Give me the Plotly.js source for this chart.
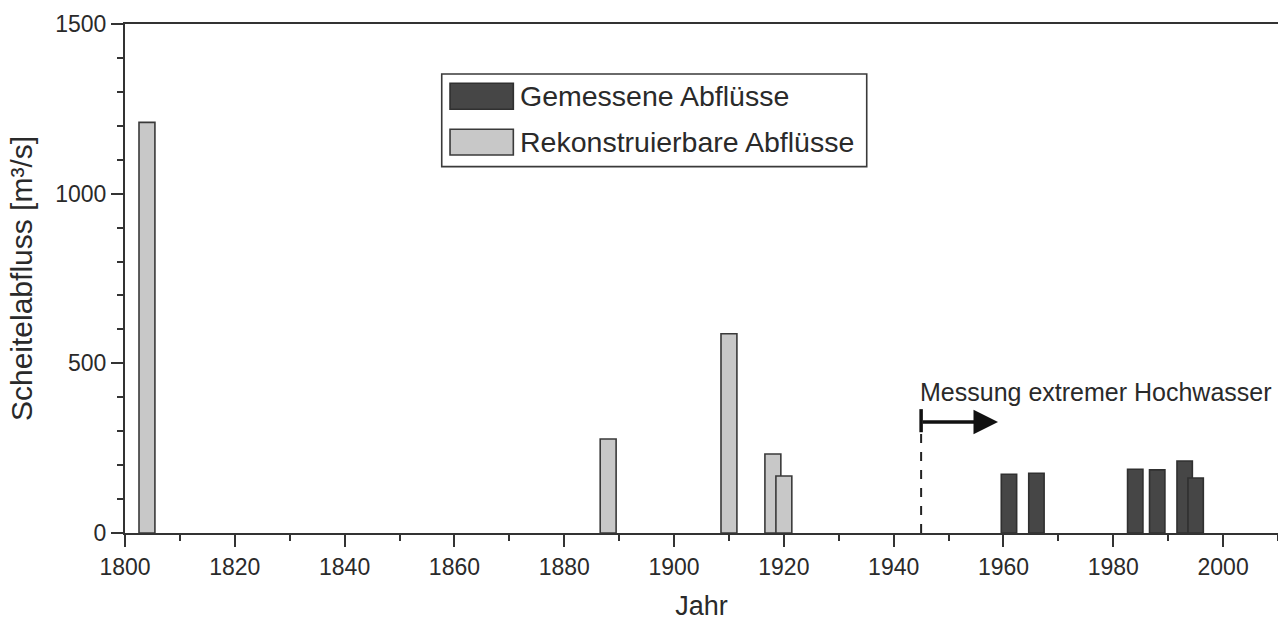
<!DOCTYPE html>
<html>
<head>
<meta charset="utf-8">
<script src="https://cdn.plot.ly/plotly-3.0.1.min.js"></script>
<style>
  html, body { margin: 0; padding: 0; background: #fff; }
  #chart { width: 1278px; height: 621px; }
</style>
</head>
<body>
<div id="chart"></div>
<script>
// Data
const measuredYears = [1961, 1966, 1984, 1988, 1993, 1995];
const measuredValues = [173, 176, 188, 186, 212, 162];
const reconstructedYears = [1804, 1888, 1910, 1918, 1920];
const reconstructedValues = [1210, 277, 587, 233, 168];
const legendLabels = ["Gemessene Abflüsse", "Rekonstruierbare Abflüsse"];
const annotationText = "Messung extremer Hochwasser";
const measurementStartYear = 1945;
const xTitle = "Jahr";
const yTitle = "Scheitelabfluss [m³/s]";

const FONT = "Liberation Sans, Arial, sans-serif";
const AX = "#333333";
const DARK = "#464646";
const LIGHT = "#c8c8c8";
const TXT = "#2a2a2a";

const traces = [
  {
    type: "bar", name: legendLabels[1],
    x: reconstructedYears, y: reconstructedValues, width: 2.9,
    marker: { color: LIGHT, line: { color: "#3a3a3a", width: 1.6 } },
    showlegend: false, hoverinfo: "x+y"
  },
  {
    type: "bar", name: legendLabels[0],
    x: measuredYears, y: measuredValues, width: 2.8,
    marker: { color: DARK, line: { color: "#303030", width: 1.6 } },
    showlegend: false, hoverinfo: "x+y"
  }
];

const layout = {
  width: 1278, height: 621,
  margin: { l: 125, r: 0, t: 24, b: 88 },
  paper_bgcolor: "#ffffff", plot_bgcolor: "#ffffff",
  font: { family: FONT, color: TXT, size: 23 },
  barmode: "overlay",
  showlegend: false,
  xaxis: {
    range: [1800, 2010],
    tickmode: "linear", tick0: 1800, dtick: 20,
    ticks: "outside", ticklen: 12, tickwidth: 2, tickcolor: AX,
    minor: { dtick: 10, ticks: "outside", ticklen: 6, tickwidth: 2, tickcolor: AX },
    showline: true, linecolor: AX, linewidth: 2, mirror: true,
    showgrid: false, zeroline: false,
    tickfont: { size: 23, family: FONT, color: TXT },
    title: { text: xTitle, font: { size: 27, family: FONT, color: TXT }, standoff: 18 }
  },
  yaxis: {
    range: [0, 1500],
    tickmode: "linear", tick0: 0, dtick: 500,
    ticks: "outside", ticklen: 12, tickwidth: 2, tickcolor: AX,
    minor: { dtick: 100, ticks: "outside", ticklen: 6, tickwidth: 2, tickcolor: AX },
    showline: true, linecolor: AX, linewidth: 2,
    showgrid: false, zeroline: false,
    tickfont: { size: 23, family: FONT, color: TXT },
    title: { text: yTitle, font: { size: 30, family: FONT, color: TXT }, standoff: 14 }
  },
  shapes: [
    // dashed marker line for start of measurement
    { type: "line", xref: "x", yref: "y", x0: measurementStartYear, x1: measurementStartYear,
      y0: 0, y1: 297, line: { color: "#222", width: 2, dash: "dash" } },
    { type: "line", xref: "x", yref: "y", x0: measurementStartYear, x1: measurementStartYear,
      y0: 297, y1: 365, line: { color: "#111", width: 3.5 } },
    // legend box
    { type: "rect", xref: "paper", yref: "paper", x0: 0.2747, x1: 0.6433, y0: 0.7197, y1: 0.9018,
      line: { color: "#3a3a3a", width: 1.6 }, fillcolor: "#ffffff" },
    { type: "rect", xref: "paper", yref: "paper", x0: 0.2819, x1: 0.3368, y0: 0.8324, y1: 0.8835,
      line: { color: "#303030", width: 1.6 }, fillcolor: DARK },
    { type: "rect", xref: "paper", yref: "paper", x0: 0.2819, x1: 0.3368, y0: 0.7426, y1: 0.7931,
      line: { color: "#3a3a3a", width: 1.6 }, fillcolor: LIGHT }
  ],
  annotations: [
    { xref: "x", yref: "y", x: 1959, y: 327, ax: measurementStartYear, ay: 327,
      axref: "x", ayref: "y", text: "", showarrow: true,
      arrowhead: 2, arrowsize: 1.4, arrowwidth: 3.5, arrowcolor: "#111" },
    { xref: "x", yref: "y", x: measurementStartYear, y: 415, xanchor: "left", yanchor: "middle",
      xshift: -3, text: annotationText, showarrow: false,
      font: { size: 25, family: FONT, color: TXT } },
    { xref: "paper", yref: "paper", x: 0.3410, y: 0.8579, xanchor: "left", yanchor: "middle",
      text: legendLabels[0], showarrow: false, font: { size: 28.5, family: FONT, color: TXT } },
    { xref: "paper", yref: "paper", x: 0.3410, y: 0.7678, xanchor: "left", yanchor: "middle",
      text: legendLabels[1], showarrow: false, font: { size: 28.5, family: FONT, color: TXT } }
  ]
};

Plotly.newPlot("chart", traces, layout, { displayModeBar: false, staticPlot: true });
</script>
</body>
</html>
